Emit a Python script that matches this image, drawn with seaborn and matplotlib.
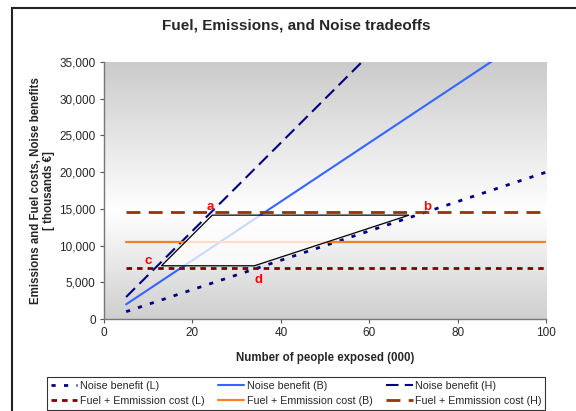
import numpy as np
import pandas as pd
import seaborn as sns
import matplotlib.pyplot as plt
from matplotlib.patches import Rectangle
from matplotlib.colors import LinearSegmentedColormap

# people exposed (000) at the two ends of each line
x_people = [5, 100]
noise_L = [1000, 20000]
noise_B = [2000, 40000]
noise_H = [3000, 60000]
fuel_L = [7000, 7000]
fuel_B = [10500, 10500]
fuel_H = [14600, 14600]

# shaded tradeoff region (corners)
region_x = [13, 34, 69, 24.5]
region_y = [7250, 7250, 14150, 14150]

point_names = ["a", "b", "c", "d"]
point_x = [24, 73, 10, 35]
point_y = [15300, 15300, 7900, 5300]

sns.set_style("white")
plt.rcParams['font.family'] = ['Liberation Sans', 'DejaVu Sans']

fig = plt.figure(figsize=(5.76, 4.11), dpi=100)
ax = fig.add_axes([0.1806, 0.2238, 0.7674, 0.6252])

# gray gradient background
cmap = LinearSegmentedColormap.from_list("bg", [(0, "#cfcfcf"), (0.42, "#ffffff"), (1, "#cbcbcb")])
grad = np.linspace(0, 1, 256).reshape(-1, 1)
ax.imshow(grad, aspect="auto", cmap=cmap, extent=[0, 100, 35000, 0], zorder=0)

df = pd.DataFrame({"x": x_people, "nL": noise_L, "nB": noise_B, "nH": noise_H,
                   "fL": fuel_L, "fB": fuel_B, "fH": fuel_H})

sns.lineplot(data=df, x="x", y="nL", ax=ax, color="#000080", lw=2, zorder=3,
             label="Noise benefit (L)").lines[-1].set_dashes([1.5, 3])
sns.lineplot(data=df, x="x", y="nB", ax=ax, color="#3366ff", lw=1.5, zorder=3,
             label="Noise benefit (B)")
sns.lineplot(data=df, x="x", y="nH", ax=ax, color="#000080", lw=1.5, zorder=3,
             label="Noise benefit (H)").lines[-1].set_dashes([6, 3])
sns.lineplot(data=df, x="x", y="fL", ax=ax, color="#800000", lw=2, zorder=3,
             label="Fuel + Emmission cost (L)").lines[-1].set_dashes([2, 1.8])
sns.lineplot(data=df, x="x", y="fB", ax=ax, color="#ff7f27", lw=1.6, zorder=3,
             label="Fuel + Emmission cost (B)")
sns.lineplot(data=df, x="x", y="fH", ax=ax, color="#993300", lw=2, zorder=3,
             label="Fuel + Emmission cost (H)").lines[-1].set_dashes([5, 3])

ax.fill(region_x, region_y, facecolor="white", alpha=0.75, edgecolor="none", zorder=4)
ax.fill(region_x, region_y, facecolor="none", edgecolor="black", lw=0.9, zorder=5)

for n, px, py in zip(point_names, point_x, point_y):
    ax.text(px, py, n, color="red", fontsize=9.5, fontweight="bold", ha="center", va="center", zorder=6)

ax.set_xlim(0, 100)
ax.set_ylim(0, 35000)
ax.set_xticks([0, 20, 40, 60, 80, 100])
ax.set_yticks(range(0, 35001, 5000))
ax.yaxis.set_major_formatter(plt.FuncFormatter(lambda v, p: f"{int(v):,}"))
ax.tick_params(axis="both", labelsize=8.5, length=3, direction="out", color="#555555",
               left=True, bottom=True, pad=3)
for s in ["top", "right"]:
    ax.spines[s].set_visible(False)
for s in ["left", "bottom"]:
    ax.spines[s].set_color("#777777")
    ax.spines[s].set_linewidth(1)

ax.set_xlabel("Number of people exposed (000)", fontsize=8.3, fontweight="bold", labelpad=9)
ax.set_ylabel("Emissions and Fuel costs, Noise benefits\n[ thousands €]", fontsize=8.3,
              fontweight="bold", labelpad=3, linespacing=1.1)
fig.text(296 / 576, 0.939, "Fuel, Emissions, and Noise tradeoffs", fontsize=11,
         fontweight="bold", ha="center", va="center")

h, l = ax.get_legend_handles_labels()
order = [0, 3, 1, 4, 2, 5]
ax.get_legend().remove()
leg = fig.legend([h[i] for i in order], [l[i] for i in order], ncol=3,
                 loc="upper left", bbox_to_anchor=(47 / 576, 0.0, 498 / 576, 1 - 377 / 411),
                 mode="expand", fontsize=7.7, frameon=True, fancybox=False, edgecolor="black",
                 handlelength=2.5, handletextpad=0.2, borderpad=0.35, labelspacing=0.5,
                 borderaxespad=0)
leg.get_frame().set_linewidth(0.8)

# outer chart frame
fig.patches.append(Rectangle((12 / 576, -0.05), 1.0, 1 - 8 / 411 + 0.05, transform=fig.transFigure,
                             fill=False, edgecolor="#222222", lw=1.5, zorder=0))

fig.savefig("out.png", dpi=100)
